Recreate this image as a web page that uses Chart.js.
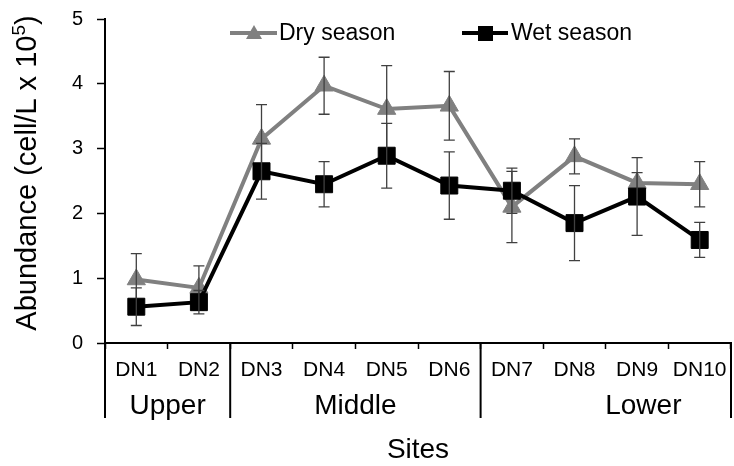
<!DOCTYPE html>
<html>
<head>
<meta charset="utf-8">
<title>Abundance by site</title>
<script src="https://cdn.jsdelivr.net/npm/chart.js@4.4.1/dist/chart.umd.min.js"></script>
<style>
  html, body { margin: 0; padding: 0; background: #fff; }
  #wrap { width: 734px; height: 466px; }
</style>
</head>
<body>
<div id="wrap"><canvas id="chart" width="734" height="466"></canvas></div>
<script>
  // values (cell/L x 10^5)
  const sites = ['DN1', 'DN2', 'DN3', 'DN4', 'DN5', 'DN6', 'DN7', 'DN8', 'DN9', 'DN10'];
  const dryMean = [0.98, 0.85, 3.15, 3.97, 3.61, 3.66, 2.10, 2.88, 2.47, 2.45];
  const dryErr  = [0.40, 0.34, 0.53, 0.44, 0.67, 0.53, 0.55, 0.27, 0.16, 0.35];
  const wetMean = [0.56, 0.63, 2.65, 2.45, 2.89, 2.43, 2.35, 1.85, 2.26, 1.59];
  const wetErr  = [0.29, 0.18, 0.43, 0.35, 0.50, 0.52, 0.35, 0.58, 0.60, 0.27];

  // river zones under the site labels
  const groupNames = ['Upper', 'Middle', 'Lower'];
  const groupFirst = [0, 2, 6];
  const groupLast = [1, 5, 9];
  const groupLabelAt = [0.5, 3.5, 8.1];

  const FONT = '"Liberation Sans", Arial, Helvetica, sans-serif';
  const GREY = '#808080';

  // error bars, drawn right after each dataset so the stacking matches
  const errorBars = {
    id: 'errorBars',
    afterDatasetDraw(chart, args) {
      const ds = chart.data.datasets[args.index];
      const { ctx, scales: { x, y } } = chart;
      ctx.save();
      ctx.strokeStyle = '#404040';
      ctx.lineWidth = 1.3;
      ds.data.forEach((v, i) => {
        const px = x.getPixelForValue(i);
        const top = y.getPixelForValue(v + ds.err[i]);
        const bot = y.getPixelForValue(v - ds.err[i]);
        ctx.beginPath();
        ctx.moveTo(px, top); ctx.lineTo(px, bot);
        ctx.moveTo(px - 5.5, top); ctx.lineTo(px + 5.5, top);
        ctx.moveTo(px - 5.5, bot); ctx.lineTo(px + 5.5, bot);
        ctx.stroke();
      });
      ctx.restore();
    }
  };

  // zone separators + labels, axis titles and the legend
  const decorations = {
    id: 'decorations',
    afterDraw(chart) {
      const { ctx, chartArea: area, scales: { x } } = chart;
      const half = (x.getPixelForValue(1) - x.getPixelForValue(0)) / 2;
      ctx.save();

      ctx.strokeStyle = '#000';
      ctx.lineWidth = 2;
      const edges = [x.getPixelForValue(groupFirst[0]) - half];
      groupLast.forEach(i => edges.push(x.getPixelForValue(i) + half));
      edges.forEach(px => {
        ctx.beginPath();
        ctx.moveTo(px, area.bottom);
        ctx.lineTo(px, area.bottom + 75);
        ctx.stroke();
      });

      ctx.fillStyle = '#000';
      ctx.textAlign = 'center';
      ctx.textBaseline = 'middle';
      ctx.font = '28px ' + FONT;
      groupNames.forEach((name, g) => {
        ctx.fillText(name, x.getPixelForValue(groupLabelAt[g]), area.bottom + 63);
      });
      ctx.fillText('Sites', (area.left + area.right) / 2, area.bottom + 107);

      // y title with superscript
      const main = 'Abundance (cell/L x 10';
      ctx.font = '29px ' + FONT;
      const w1 = ctx.measureText(main).width;
      const w3 = ctx.measureText(')').width;
      ctx.font = '19px ' + FONT;
      const w2 = ctx.measureText('5').width;
      const total = w1 + w2 + w3;
      ctx.translate(36, 173);
      ctx.rotate(-Math.PI / 2);
      ctx.textAlign = 'left';
      ctx.textBaseline = 'alphabetic';
      let cx = -total / 2;
      ctx.font = '29px ' + FONT;
      ctx.fillText(main, cx, 0);
      cx += w1;
      ctx.font = '19px ' + FONT;
      ctx.fillText('5', cx, -11);
      cx += w2;
      ctx.font = '29px ' + FONT;
      ctx.fillText(')', cx, 0);
      ctx.setTransform(1, 0, 0, 1, 0, 0);

      // legend
      const ly = 33;
      ctx.lineWidth = 4;
      ctx.strokeStyle = GREY;
      ctx.beginPath(); ctx.moveTo(230, ly); ctx.lineTo(277, ly); ctx.stroke();
      ctx.fillStyle = GREY;
      ctx.beginPath();
      ctx.moveTo(254, ly - 8); ctx.lineTo(262, ly + 6); ctx.lineTo(246, ly + 6);
      ctx.closePath(); ctx.fill();
      ctx.strokeStyle = '#000';
      ctx.beginPath(); ctx.moveTo(462, ly); ctx.lineTo(508, ly); ctx.stroke();
      ctx.fillStyle = '#000';
      ctx.fillRect(478, ly - 7, 15, 15);

      ctx.font = '23px ' + FONT;
      ctx.textAlign = 'left';
      ctx.textBaseline = 'middle';
      ctx.fillText('Dry season', 279, ly + 1);
      ctx.fillText('Wet season', 511, ly + 1);
      ctx.restore();
    }
  };

  new Chart(document.getElementById('chart'), {
    type: 'line',
    data: {
      labels: sites,
      datasets: [
        {
          label: 'Dry season',
          data: dryMean,
          err: dryErr,
          borderColor: GREY,
          backgroundColor: GREY,
          borderWidth: 4,
          pointStyle: 'triangle',
          pointRadius: 10.5,
          pointBorderWidth: 1,
          tension: 0,
          order: 1
        },
        {
          label: 'Wet season',
          data: wetMean,
          err: wetErr,
          borderColor: '#000',
          backgroundColor: '#000',
          borderWidth: 4,
          pointStyle: 'rect',
          pointRadius: 12,
          pointBorderWidth: 1,
          tension: 0,
          order: 0
        }
      ]
    },
    options: {
      responsive: false,
      animation: false,
      layout: { autoPadding: false, padding: { top: 19, right: 3, left: 0, bottom: 0 } },
      plugins: {
        legend: { display: false },
        tooltip: { enabled: false }
      },
      scales: {
        x: {
          type: 'category',
          offset: true,
          afterFit: (s) => { s.height = 123; s.paddingLeft = 0; s.paddingRight = 0; },
          grid: { offset: true, drawOnChartArea: false, tickLength: 6, tickColor: '#000', tickWidth: 1.5 },
          border: { color: '#000', width: 2 },
          ticks: { color: '#000', font: { family: FONT, size: 21 }, padding: 9, maxRotation: 0, autoSkip: false }
        },
        y: {
          min: 0,
          max: 5,
          afterFit: (s) => { s.width = 105; s.paddingTop = 0; s.paddingBottom = 0; },
          grid: { drawOnChartArea: false, tickLength: 8, tickColor: '#000', tickWidth: 1.5 },
          border: { color: '#000', width: 2 },
          ticks: { stepSize: 1, color: '#000', font: { family: FONT, size: 20 }, padding: 14 }
        }
      }
    },
    plugins: [errorBars, decorations]
  });
</script>
</body>
</html>
